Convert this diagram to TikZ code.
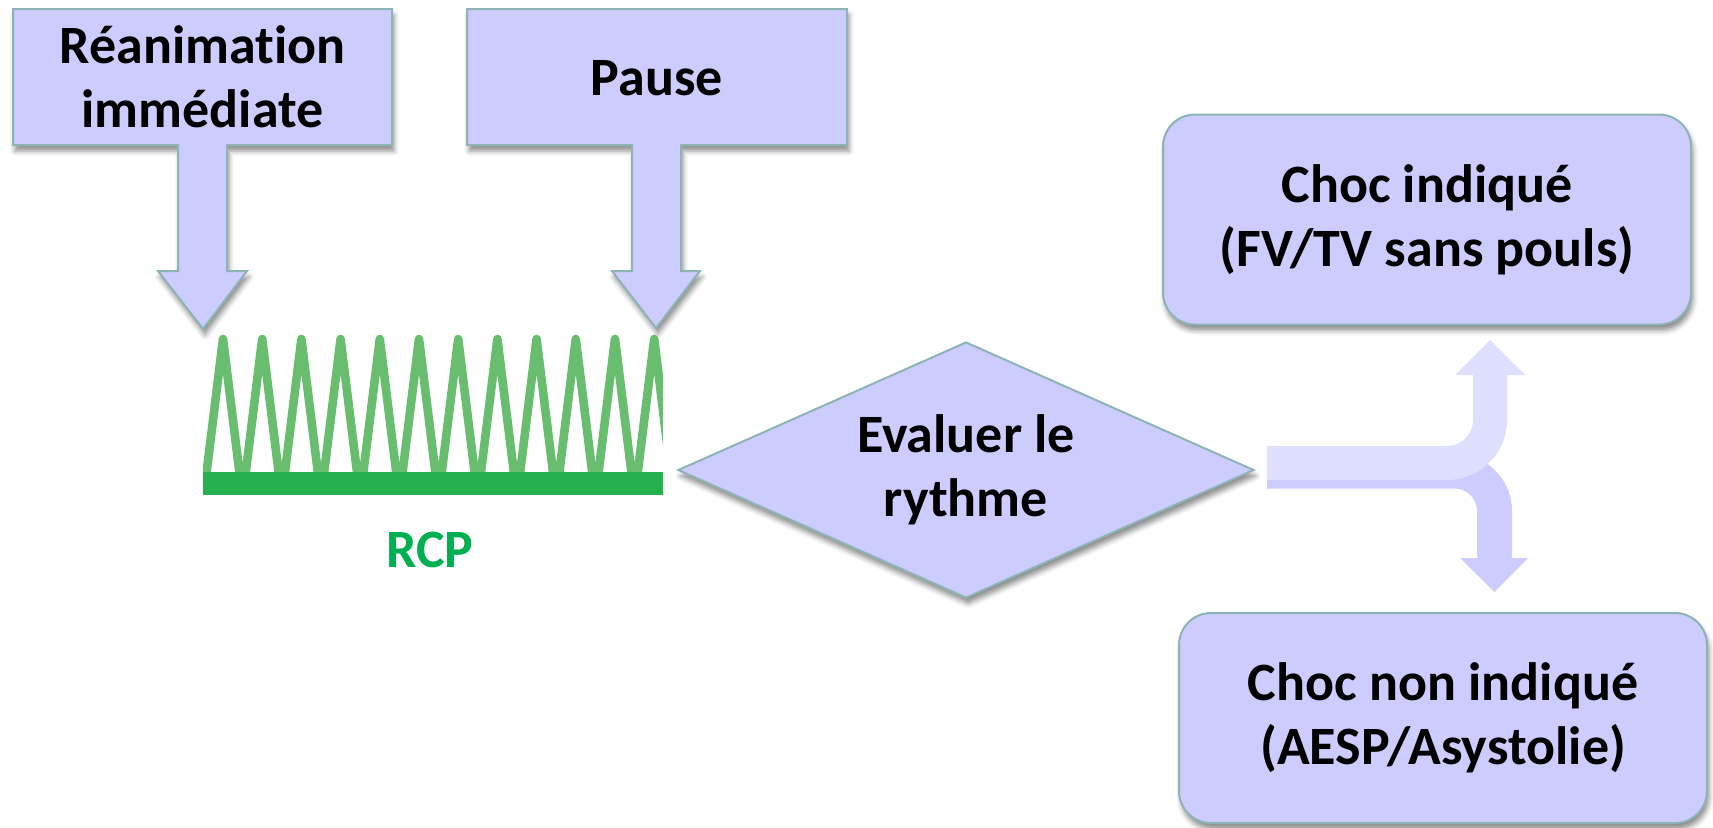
\documentclass[tikz,border=0pt]{standalone}
\usepackage{fontspec}
\setmainfont{Carlito}[Ligatures=NoCommon]
\usetikzlibrary{shapes.geometric,shadows.blur}

\definecolor{boxfill}{RGB}{204,204,255}
\definecolor{boxline}{RGB}{140,180,180}
\definecolor{forkup}{RGB}{222,222,255}
\definecolor{forkdown}{RGB}{204,204,255}
\definecolor{zigline}{RGB}{104,190,110}
\definecolor{basebar}{RGB}{36,176,76}
\definecolor{rcpgreen}{RGB}{0,176,80}

\tikzset{
  softshadow/.style={blur shadow={shadow xshift=1pt, shadow yshift=-3pt,
      shadow opacity=45, shadow blur radius=2.5pt}},
  shape outline/.style={fill=boxfill, draw=boxline, line width=1pt, softshadow},
  label text/.style={font=\fontsize{27}{32}\selectfont\bfseries, align=center,
      inner sep=0pt},
  round box/.style={shape outline, rounded corners=16pt, label text,
      minimum width=264pt, minimum height=105pt},
  decision/.style={shape outline, diamond, aspect=2.25, label text,
      minimum width=288pt, minimum height=128pt},
}

\begin{document}
\begin{tikzpicture}[x=0.5pt, y=-0.5pt]
\useasboundingbox (0,0) rectangle (1713,827);

% callout boxes with their downward arrows
\path[shape outline, line join=miter]
  (13,9) -- (392,9) -- (392,145) -- (227,145) -- (227,271) -- (247,271)
  -- (203,329) -- (158,271) -- (178,271) -- (178,145) -- (13,145) -- cycle;
\path[shape outline, line join=miter]
  (467,9) -- (847,9) -- (847,145) -- (681,145) -- (681,271) -- (700,271)
  -- (656,328) -- (612,271) -- (632,271) -- (632,145) -- (467,145) -- cycle;
\node[label text] (rea) at (202.5,77) {Réanimation\\immédiate};
\node[label text] (pause) at (657,78) {Pause};

% compression trace
\begin{scope}
  \clip (203,325) rectangle (663,480);
  \draw[zigline, line width=4.3pt, line join=round]
    (203.4,498) foreach \k in {0,...,11} { -- ({223+39.2*\k},339) -- ({242.6+39.2*\k},498) };
\end{scope}
\fill[basebar] (203,472) rectangle (663,495);
\node[label text, text=rcpgreen] (rcp) at (430,550) {RCP};

% rhythm check
\node[decision] (eval) at (966,470) {Evaluer le\\rythme};

% outcomes
\node[round box] (choc) at (1427,219.5) {Choc indiqué\\(FV/TV sans pouls)};
\node[round box] (nonchoc) at (1443,718) {Choc non indiqué\\(AESP/Asystolie)};

% branching arrow
\coordinate (forkA) at (1267,471);
\coordinate (forkB) at (1267,463);
\coordinate (downEnd) at (1494.5,560);
\coordinate (upEnd) at (1490,373);
\draw[forkdown, line width=17.5pt, rounded corners=20pt] (forkA) -| (downEnd);
\fill[forkdown] (1460,558) -- (1528,558) -- (1494.5,592) -- cycle;
\draw[forkup, line width=17pt, rounded corners=21.5pt] (forkB) -| (upEnd);
\fill[forkup] (1455,375) -- (1525,375) -- (1490,340) -- cycle;
\end{tikzpicture}
\end{document}
